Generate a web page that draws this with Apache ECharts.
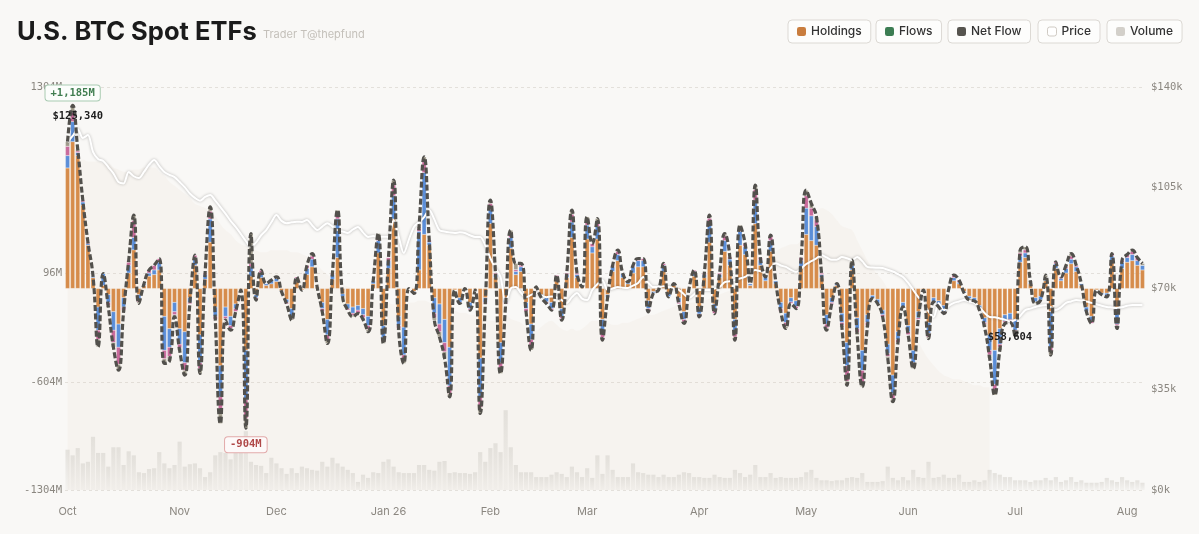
<!DOCTYPE html>
<html><head><meta charset="utf-8">
<script src="https://cdn.jsdelivr.net/npm/echarts@6.0.0/dist/echarts.min.js"></script>
<style>html,body{margin:0;padding:0;background:#f9f8f6}#chart{width:1199px;height:534px}</style>
</head><body><div id="chart"></div>
<script>
// ---------- data ----------
const startDate = '2025-10-02';
const holidays = ['2025-11-27','2025-12-25','2026-01-01','2026-01-19','2026-02-16','2026-04-03','2026-05-25','2026-06-19','2026-07-03'];
const monthNames = ['Jan','Feb','Mar','Apr','May','Jun','Jul','Aug','Sep','Oct','Nov','Dec'];
const flowTicks = [-1304, -604, 96, 1304];
const flowMin = -1304, flowMax = 1304;
const priceMin = 0, priceMax = 140000, priceInterval = 35000;

// daily net flow, $M
const netFlow = [
950,1185,900,570,300,80,-377,97,-120,-380,
-528,-150,180,475,-97,30,120,150,194,-485,
-470,-183,-400,-561,-100,216,-550,100,528,-200,
-874,-205,-270,-150,-11,-904,356,-75,119,32,
54,75,-20,-100,-205,75,-11,150,226,10,
-150,-356,100,507,-54,-140,-183,-162,-200,-280,
50,356,-356,200,701,-270,-485,0,-32,400,
852,313,-205,-313,-450,-701,-11,-97,0,-140,
-10,-809,-100,572,100,-550,-100,377,162,162,
-150,-399,11,-60,-97,-140,86,-205,100,507,
100,10,464,291,453,-334,-60,150,248,97,
43,150,194,194,-151,-30,-11,162,-54,32,
-100,-226,0,119,-183,100,475,-162,100,356,
205,-334,410,291,32,669,200,75,345,50,
-150,-259,-97,-130,200,636,550,464,100,-270,
-100,32,-250,-626,183,-300,-636,-250,-65,-97,
-183,-450,-733,-350,-119,-300,-518,-200,-11,-324,
-86,-120,-162,0,86,54,-30,-75,-80,-140,
-250,-450,-690,-400,-227,-220,-313,248,270,50,
-97,-75,86,-431,173,75,150,226,150,32,
-150,-226,-11,-40,-54,226,-259,183,220,248,
200,162];

// per-fund flow segments, $M
const ibit = [
780,950,860,540,280,70,-120,20,-40,-150,
-230,-60,100,250,-40,20,80,90,120,-180,
-260,-90,-260,-280,-60,150,-300,60,300,-120,
-500,-120,-180,-100,-11,-400,80,-40,70,20,
30,45,-15,-70,-130,45,-11,90,140,10,
-90,-200,60,200,-34,-100,-120,-110,-130,-180,
30,230,-240,130,450,-180,-250,0,-20,120,
350,280,-60,-100,-200,-380,-11,-60,0,-90,
-10,-450,-60,420,70,-350,-60,260,90,110,
-90,-230,11,-40,-60,-90,50,-130,70,330,
70,10,320,230,320,-200,-40,110,180,70,
30,100,140,140,-80,-20,-11,110,-34,20,
-60,-150,0,80,-120,70,300,-100,70,240,
150,-200,280,220,20,420,150,50,240,30,
-90,-160,-60,-80,140,350,310,280,70,-170,
-60,20,-160,-350,120,-190,-400,-170,-45,-70,
-140,-360,-560,-280,-90,-240,-400,-150,-11,-220,
-60,-80,-110,0,50,30,-20,-50,-60,-110,
-190,-300,-400,-260,-170,-160,-200,170,200,30,
-60,-50,50,-150,130,50,100,160,110,20,
-120,-180,-11,-30,-30,170,-120,130,170,180,
150,120];
const fbtc = [
80,130,20,20,10,10,-150,77,-50,-120,
-150,-60,50,80,-30,10,20,30,50,-220,
-120,-60,-100,-200,-30,50,-180,30,150,-60,
-200,-60,-60,-30,0,-320,60,-20,30,12,
24,20,-5,-20,-50,20,0,40,50,0,
-40,-100,30,250,-20,-30,-40,-30,-40,-60,
20,80,-80,50,150,-60,-180,0,-12,250,
400,20,-100,-130,-150,-250,0,-30,0,-40,
0,-250,-30,90,20,-130,-30,70,20,30,
-40,-100,0,-20,-27,-40,26,-50,20,100,
20,0,90,40,80,-90,-20,30,40,27,
13,40,40,40,-50,-10,0,40,-20,12,
-30,-50,0,30,-45,20,120,-40,20,70,
40,-80,90,50,12,150,35,25,70,20,
-40,-60,-27,-35,40,170,160,120,20,-60,
-30,12,-60,-150,30,-70,-130,-50,-20,-27,
-30,-60,-120,-50,-29,-40,-80,-40,0,-70,
-26,-30,-40,0,20,10,-10,-15,-20,-20,
-30,-100,-220,-100,-40,-40,-70,40,30,10,
-27,-25,20,-230,30,15,30,30,30,12,
-30,-30,0,-10,-14,40,-110,40,30,40,
30,30];
const arkb = [
60,60,10,10,10,0,-60,0,-20,-80,
-110,-20,20,110,-17,0,20,30,24,-55,
-60,-20,-25,-50,-10,16,-40,10,50,-20,
-110,-15,-20,-20,0,-120,20,-15,19,0,
0,10,0,-10,-15,10,0,20,20,0,
-20,-36,10,40,0,-10,-13,-22,-20,-25,
0,30,-26,20,70,-20,-35,0,0,20,
70,13,-30,-50,-60,-50,0,-7,0,-10,
0,-70,-10,40,10,-40,-10,30,12,12,
-20,-49,0,0,-10,-10,10,-15,10,50,
10,0,34,21,33,-30,0,10,20,0,
0,10,14,14,-21,0,0,12,0,0,
-10,-16,0,9,-18,10,35,-22,10,30,
15,-34,25,21,0,70,15,0,25,0,
-20,-25,-10,-15,20,80,50,44,10,-25,
-10,0,-20,-100,13,-25,-80,-20,0,0,
-13,-20,-35,-20,0,-20,-25,-10,0,-24,
0,-10,-12,0,16,14,0,0,0,0,
-10,-30,-50,-20,-10,-10,-23,20,20,0,
0,0,0,-30,13,10,10,20,10,0,
0,-16,0,0,-10,16,-10,13,20,20,
20,0];
const other = [
30,45,10,0,0,0,-47,0,-10,-30,
-38,-10,10,35,-10,0,0,0,0,-30,
-30,-13,-15,-31,0,0,-30,0,28,0,
-64,-10,-10,0,0,-64,196,0,0,0,
0,0,0,0,-10,0,0,0,16,0,
0,-20,0,17,0,0,-10,0,-10,-15,
0,16,-10,0,31,-10,-20,0,0,10,
32,0,-15,-33,-40,-21,0,0,0,0,
0,-39,0,22,0,-30,0,17,40,10,
0,-20,0,0,0,0,0,-10,0,27,
0,0,20,0,20,-14,0,0,8,0,
0,0,0,0,0,0,0,0,0,0,
0,-10,0,0,0,0,20,0,0,16,
0,-20,15,0,0,29,0,0,10,0,
0,-14,0,0,0,36,30,20,0,-15,
0,0,-10,-26,20,-15,-26,-10,0,0,
0,-10,-18,0,0,0,-13,0,0,-10,
0,0,0,0,0,0,0,-10,0,-10,
-20,-20,-20,-20,-7,-10,-20,18,20,10,
-10,0,16,-21,0,0,10,16,0,0,
0,0,0,0,0,0,-19,0,0,8,
0,12];

// BTC price, $
const price = [
120900,123000,125340,122300,123300,117500,115000,114300,112200,110000,
107000,106500,110500,109000,108400,110500,113000,114600,112500,110500,
109500,108700,107000,105200,103000,101500,100500,101800,102500,100500,
98300,96000,93500,91400,89000,86500,84400,86000,88500,90300,
93000,95500,93500,92700,93000,93200,93100,93800,92000,90300,
91500,92700,91500,90300,89800,89300,90500,91400,89500,87900,
88200,87900,88000,87900,93800,88000,82300,87000,91400,93000,
94800,97300,94000,90300,89800,89500,89300,89500,89300,88500,
87900,87900,85000,80500,77000,74000,65000,70000,70500,68500,
67000,67800,68400,67500,67000,67200,67000,66000,65000,67000,
68400,66500,66000,69500,71500,72900,69500,70000,70500,70300,
70200,71000,71900,74000,72000,70500,70500,70800,70500,70000,
69500,68000,66700,68000,69500,69500,69500,70000,70500,72200,
72500,72900,73500,74000,75500,76400,76000,75700,77000,78800,
78000,77500,76500,75700,77000,78500,79500,80500,81600,80800,
80000,80000,80900,80500,79900,80900,79500,77500,77300,77200,
77100,76500,75900,75000,74000,72000,69500,67000,65000,62000,
60100,65000,62500,64000,65000,65500,66000,65500,65000,63500,
61500,60100,60000,59600,59200,58604,59000,60500,62500,63000,
63600,64000,64300,63500,62500,63500,65000,65500,66000,65800,
65500,65000,64500,64000,63600,63400,63200,63500,64000,64300,
64300,64300];

// trading volume, $B
const volume = [
5.0,4.3,5.2,3.3,3.5,6.6,4.6,4.6,2.9,5.3,
5.3,3.1,4.8,4.3,2.2,2.1,2.6,2.7,4.7,3.3,
2.7,3.1,6.0,2.9,3.2,3.3,2.7,1.6,2.2,4.3,
4.7,4.6,3.8,4.6,5.0,7.3,3.5,3.1,3.0,2.1,
4.0,3.3,2.7,2.0,2.7,2.1,2.9,2.7,2.5,2.4,
3.5,2.9,4.0,3.3,2.9,2.5,2.1,1.0,1.9,1.5,
2.2,2.1,3.5,3.8,2.9,2.2,2.1,2.1,2.1,3.1,
3.1,2.5,2.4,3.5,3.6,2.1,2.2,2.1,2.1,2.0,
2.2,4.7,3.5,5.2,5.8,4.7,9.9,5.3,3.1,2.2,
2.2,2.2,1.6,1.6,1.6,1.9,2.2,2.0,1.6,2.9,
2.2,1.6,2.7,1.5,4.3,2.0,4.3,2.5,1.6,1.6,
1.6,3.3,2.2,2.1,1.9,1.9,1.6,1.9,1.6,1.6,
1.9,2.2,2.1,1.6,1.6,1.5,1.5,1.9,1.6,1.5,
1.5,2.5,2.1,1.6,1.9,3.1,1.6,1.6,2.1,1.5,
1.6,1.5,1.5,1.5,1.6,2.2,2.5,1.5,1.2,1.2,
1.1,1.2,1.2,1.5,1.6,1.5,2.1,1.0,1.0,1.0,
1.1,2.9,1.5,1.2,1.6,1.2,2.5,1.6,1.5,3.5,
1.5,1.6,1.9,1.5,1.5,1.9,1.0,1.0,1.2,1.0,
1.2,2.5,2.1,1.9,1.6,1.6,1.2,1.2,1.2,1.0,
1.2,1.2,1.5,1.2,1.6,1.0,1.2,1.6,1.0,1.2,
0.9,0.9,0.9,1.0,1.5,1.2,1.0,1.6,1.2,1.0,
1.2,0.9];

// holdings (AUM, $B)
const holdings = [
165,165,164,164,163,163,163,162,162,160,
159,158,158,159,159,160,160,160,158,156,
153,151,149,147,145,142,141,140,138,136,
132,129,127,124,122,121,120,119,118,118,
119,119,119,119,118,118,117,116,114,112,
109,107,105,104,102,101,100,98,97,96,
95,94,94,93,92,92,92,93,93,94,
94,93,92,91,90,89,89,88,88,87,
87,86,85,84,84,86,87,85,84,83,
81,80,79,81,83,84,82,80,79,80,
79,80,82,84,84,84,83,82,82,83,
83,84,85,86,87,87,88,89,90,91,
92,92,93,93,94,94,95,96,97,98,
99,101,102,104,105,107,110,113,115,118,
120,121,122,122,124,128,132,136,140,139,
137,134,131,130,129,124,119,114,110,107,
104,100,97,94,89,84,79,74,69,65,
62,59,57,56,55,55,54,53,52,52,
51,51,null,null,null,null,null,null,null,null,
null,null,null,null,null,null,null,null,null,null,
null,null,null,null,null,null,null,null,null,null,
null,null];

// ---------- categories (trading days) ----------
function buildTradingDays(start, count, skip) {
  const out = [];
  const d = new Date(start + 'T00:00:00Z');
  while (out.length < count) {
    const iso = d.toISOString().slice(0, 10);
    const wd = d.getUTCDay();
    if (wd !== 0 && wd !== 6 && skip.indexOf(iso) < 0) out.push(iso);
    d.setUTCDate(d.getUTCDate() + 1);
  }
  return out;
}
const dates = buildTradingDays(startDate, netFlow.length, holidays);

// ---------- chart ----------
const mono = 'DejaVu Sans Mono';
const sans = 'Inter';
const chart = echarts.init(document.getElementById('chart'), null, {renderer: 'canvas'});

function legendBox(name, left, itemStyle) {
  return {
    data: [{name: name, icon: 'roundRect', itemStyle: itemStyle}],
    left: left, top: 20, orient: 'horizontal',
    padding: [5, 9, 5, 9],
    backgroundColor: '#fdfdfc', borderColor: '#dcd9d4', borderWidth: 1, borderRadius: 4,
    itemWidth: 9, itemHeight: 9, itemGap: 6, selectedMode: false,
    textStyle: {fontFamily: sans, fontSize: 12, fontWeight: 500, color: '#333', lineHeight: 13}
  };
}
const flowFmt = p => (p.value > 0 ? '+' : '') + Math.round(p.value).toLocaleString('en-US') + 'M';
const priceFmt = p => '$' + Math.round(p.value).toLocaleString('en-US');

const barCommon = {
  type: 'bar', name: 'Flows', stack: 'flows', yAxisIndex: 0,
  barWidth: 4.2, barGap: '-100%', z: 2,
  emphasis: {disabled: true}
};
const segStyle = c => ({color: c, borderColor: 'rgba(255,255,255,0.7)', borderWidth: 0.3});

const option = {
  backgroundColor: '#f9f8f6',
  animation: false,
  title: [
    {text: 'U.S. BTC Spot ETFs', left: 12, top: 14,
     textStyle: {fontFamily: sans, fontSize: 25.5, fontWeight: 700, color: '#1b1b1b'}},
    {text: 'Trader T@thepfund', left: 258, top: 24,
     textStyle: {fontFamily: sans, fontSize: 11, fontWeight: 400, color: '#c4c0ba'}}
  ],
  legend: [
    legendBox('Holdings', 788, {color: '#c97d3e', borderWidth: 0}),
    legendBox('Flows', 876, {color: '#3c7d53', borderWidth: 0}),
    legendBox('Net Flow', 948, {color: '#56544f', borderWidth: 0}),
    legendBox('Price', 1038, {color: '#ffffff', borderColor: '#cfcac3', borderWidth: 1}),
    legendBox('Volume', 1107, {color: '#d3d0ca', borderWidth: 0})
  ],
  grid: {left: 65, right: 54, top: 87, bottom: 44, containLabel: false},
  xAxis: {
    type: 'category', data: dates, boundaryGap: true,
    axisLine: {show: false}, axisTick: {show: false},
    axisLabel: {
      margin: 16, color: '#8b8780', fontFamily: sans, fontSize: 11,
      interval: (i, v) => i === 0 || dates[i].slice(0, 7) !== dates[i - 1].slice(0, 7),
      formatter: v => {
        const m = +v.slice(5, 7);
        return m === 1 ? monthNames[0] + ' ' + v.slice(2, 4) : monthNames[m - 1];
      }
    },
    splitLine: {show: false}
  },
  yAxis: [
    {type: 'value', min: flowMin, max: flowMax, position: 'left',
     axisLine: {show: false}, axisTick: {show: false, customValues: flowTicks},
     axisLabel: {customValues: flowTicks, formatter: v => v + 'M', color: '#8b8780', fontFamily: mono, fontSize: 10.5, margin: 3},
     splitLine: {show: true, lineStyle: {type: [3, 3], color: '#e3e0db', width: 1}}},
    {type: 'value', min: priceMin, max: priceMax, interval: priceInterval, position: 'right',
     axisLine: {show: false}, axisTick: {show: false},
     axisLabel: {formatter: v => '$' + (v / 1000) + 'k', color: '#8b8780', fontFamily: mono, fontSize: 10.5, margin: 6},
     splitLine: {show: false}},
    {type: 'value', min: 0, max: 50, show: false, splitLine: {show: false}},
    {type: 'value', min: 0, max: 200, show: false, splitLine: {show: false}}
  ],
  series: [
    {type: 'line', name: 'Holdings', yAxisIndex: 3, data: holdings, smooth: 0.4, symbol: 'none',
     lineStyle: {width: 0}, areaStyle: {color: 'rgba(222,196,172,0.13)'}, z: 0, silent: true},
    {type: 'bar', name: 'Volume', yAxisIndex: 2, data: volume, barWidth: 4.2, barGap: '-100%', z: 1, silent: true,
     itemStyle: {color: new echarts.graphic.LinearGradient(0, 0, 0, 1, [
       {offset: 0, color: 'rgba(214,211,205,0.6)'}, {offset: 1, color: 'rgba(214,211,205,0.15)'}])}},
    Object.assign({}, barCommon, {data: ibit, itemStyle: segStyle('#d68c4b')}),
    Object.assign({}, barCommon, {data: fbtc, itemStyle: segStyle('#5b8ed8')}),
    Object.assign({}, barCommon, {data: arkb, itemStyle: segStyle('#c96b9c')}),
    Object.assign({}, barCommon, {data: other, itemStyle: segStyle('#a19c8c')}),
    {type: 'line', name: 'Price', yAxisIndex: 1, data: price, smooth: 0.3, symbol: 'none', z: 3,
     lineStyle: {color: '#ffffff', width: 2, shadowColor: 'rgba(0,0,0,0.28)', shadowBlur: 3},
     itemStyle: {color: '#ffffff'},
     markPoint: {symbol: 'circle', symbolSize: 0, silent: true, data: [
       {type: 'max', label: {show: true, position: 'top', distance: 7, formatter: priceFmt,
         fontFamily: mono, fontSize: 10.5, fontWeight: 'bold', color: '#1e1e1e'}},
       {type: 'min', label: {show: true, position: 'bottom', distance: 10, formatter: priceFmt,
         fontFamily: mono, fontSize: 10.5, fontWeight: 'bold', color: '#1e1e1e'}}
     ]}},
    {type: 'line', name: 'Net Flow', yAxisIndex: 0, data: netFlow, smooth: 0.5, symbol: 'none', z: 4,
     lineStyle: {color: '#52504c', width: 3.2, type: [6, 2.5]},
     itemStyle: {color: '#52504c'},
     markPoint: {symbol: 'circle', symbolSize: 0, silent: true, data: [
       {type: 'max', label: {show: true, position: 'top', distance: 5, formatter: flowFmt,
         fontFamily: mono, fontSize: 10.5, fontWeight: 600, color: '#3f7d4f',
         backgroundColor: '#fbfdfb', borderColor: '#a9cbb2', borderWidth: 1, borderRadius: 3, padding: [2, 5]}},
       {type: 'min', label: {show: true, position: 'bottom', distance: 9, formatter: flowFmt,
         fontFamily: mono, fontSize: 10.5, fontWeight: 600, color: '#b04848',
         backgroundColor: '#fdf9f9', borderColor: '#e2aaaa', borderWidth: 1, borderRadius: 3, padding: [2, 5]}}
     ]}}
  ]
};
chart.setOption(option);
</script></body></html>
